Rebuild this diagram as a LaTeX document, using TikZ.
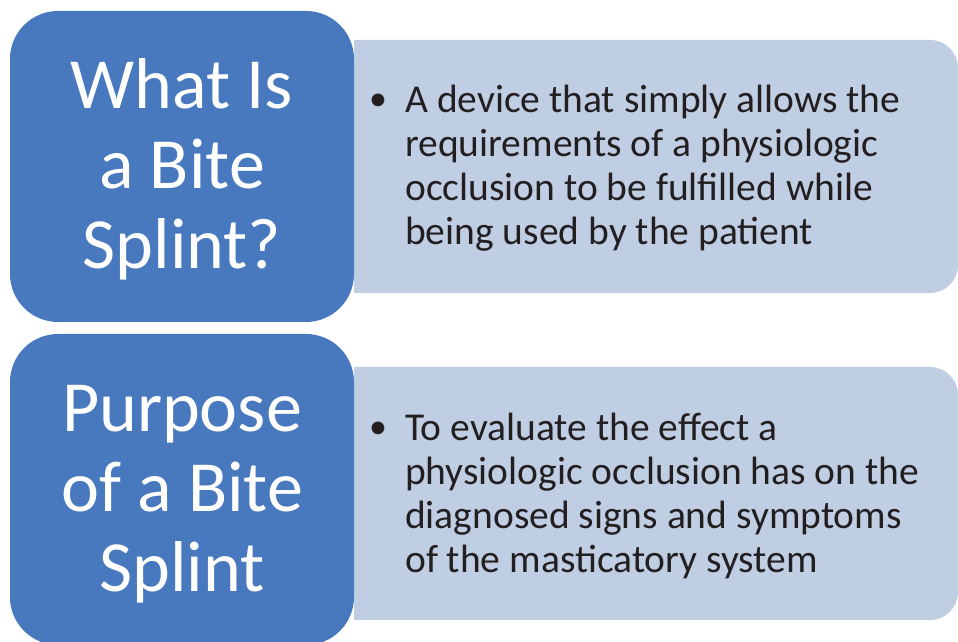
\documentclass[tikz,border=0pt]{standalone}
\usepackage{fontspec}
\setmainfont{Carlito}
\tikzset{
  titlebox/.style={fill=bluehead, rounded corners=48pt, minimum width=344pt, minimum height=311pt,
    text=white, align=center, inner sep=0pt, font=\fontsize{72}{80}\selectfont},
  bodytext/.style={text=darktext, align=left, inner sep=0pt, anchor=west, font=\fontsize{39.5}{44}\selectfont},
  dot/.style={text=darktext, inner sep=0pt, font=\fontsize{36}{44}\selectfont}
}
\begin{document}
\begin{tikzpicture}[x=1pt, y=1pt]
\definecolor{bluehead}{HTML}{4878BE}
\definecolor{lightbody}{HTML}{BFCEE3}
\definecolor{darktext}{HTML}{231F20}
\useasboundingbox (0,0) rectangle (958,642);
% light boxes, square on the left, round on the right
\fill[lightbody] (354,349) -- (930,349) arc[start angle=-90, end angle=0, radius=28] -- (958,574) arc[start angle=0, end angle=90, radius=28] -- (354,602) -- cycle;
\fill[lightbody] (354,22) -- (930,22) arc[start angle=-90, end angle=0, radius=28] -- (958,247) arc[start angle=0, end angle=90, radius=28] -- (354,275) -- cycle;
% blue heads
\node[titlebox] (whathead) at (182,475.5) {};
\node[text=white, align=center, inner sep=0pt, font=\fontsize{72}{80}\selectfont] (whatlabel) at (182,472.5) {What Is\\a Bite\\Splint?};
\node[titlebox] (purposehead) at (182,152.5) {};
\node[text=white, align=center, inner sep=0pt, font=\fontsize{72}{80}\selectfont] (purposelabel) at (182,147.5) {Purpose\\of a Bite\\Splint};
% bullets
\node[dot] (whatdot) at (378,540) {\textbullet};
\node[bodytext] (whattext) at (405,473.5) {A device that simply allows the\\requirements of a physiologic\\occlusion to be fulfilled while\\being used by the patient};
\node[dot] (purposedot) at (378,212) {\textbullet};
\node[bodytext] (purposetext) at (405,146.5) {To evaluate the effect a\\physiologic occlusion has on the\\diagnosed signs and symptoms\\of the masticatory system};
\end{tikzpicture}
\end{document}
